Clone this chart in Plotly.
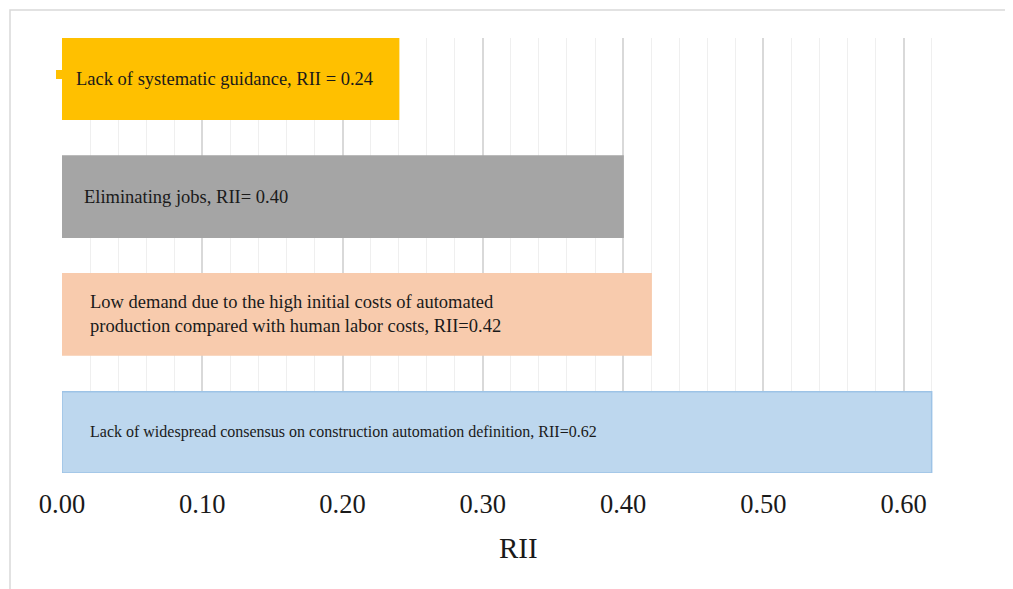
import plotly.graph_objects as go

# Data (top-to-bottom order as shown)
categories = ["Lack of systematic guidance", "Eliminating jobs",
              "Low demand due to high initial costs", "Lack of widespread consensus"]
rii_values = [0.24, 0.40, 0.42, 0.62]
bar_labels = ["Lack of systematic guidance, RII = 0.24",
              "Eliminating jobs, RII= 0.40",
              "Low demand due to the high initial costs of automated<br>production compared with human labor costs, RII=0.42",
              "Lack of widespread consensus on construction automation definition, RII=0.62"]
bar_colors = ["#FFC000", "#A5A5A5", "#F8CBAD", "#BDD7EE"]
line_colors = ["#FFC000", "#A5A5A5", "#F8CBAD", "#9DC3E6"]
label_sizes = [18.5, 18.5, 18.5, 16]
label_shift = [12, 20, 26, 26]
tick_vals = [0.0, 0.1, 0.2, 0.3, 0.4, 0.5, 0.6]
tick_text = ["0.00", "0.10", "0.20", "0.30", "0.40", "0.50", "0.60"]
axis_title = "RII"

FONT = "Liberation Serif, Times New Roman, serif"

fig = go.Figure()
fig.add_trace(go.Bar(
    x=rii_values, y=categories, orientation="h",
    marker=dict(color=bar_colors, line=dict(color=line_colors, width=1.5)),
    hoverinfo="skip", showlegend=False,
))

for cat, lab, sz, sh in zip(categories, bar_labels, label_sizes, label_shift):
    fig.add_annotation(x=0, y=cat, xref="x", yref="y", text=lab, showarrow=False,
                       xanchor="left", yanchor="middle", align="left", xshift=sh,
                       font=dict(family=FONT, size=sz, color="#1a1a1a"))

# page body has an 8px margin; compensate so the picture lands where the reference is
OFF = 8
W, H = 1013 - OFF, 589 - OFF
L, R, T, B = 62 - OFF, 53, 38 - OFF, 116
pw, ph = W - L - R, H - T - B

def px(x):
    return (x - OFF - L) / pw

def py(y):
    return (H - B - (y - OFF)) / ph

# axis title (placed slightly right of the plot centre, as in the reference)
fig.add_annotation(x=px(518), y=py(548), xref="paper", yref="paper", text=axis_title,
                   showarrow=False, xanchor="center", yanchor="middle",
                   font=dict(family=FONT, size=29, color="#1a1a1a"))

# outer chart border
fig.add_shape(type="rect", xref="paper", yref="paper",
              x0=px(10), x1=px(1040), y0=py(10), y1=py(620),
              line=dict(color="#D9D9D9", width=1.5), fillcolor="rgba(0,0,0,0)", layer="below")
# small marker artifact left of the top bar
fig.add_shape(type="rect", xref="paper", yref="paper",
              x0=px(56), x1=px(62), y0=py(79), y1=py(70),
              line=dict(width=0), fillcolor="#FFC000")

GAP = 0.31
fig.update_layout(
    width=W, height=H,
    margin=dict(l=L, r=R, t=T, b=B),
    paper_bgcolor="white", plot_bgcolor="white",
    bargap=GAP,
    font=dict(family=FONT, color="#1a1a1a"),
    xaxis=dict(
        range=[0, 0.6402], tickvals=tick_vals, ticktext=tick_text,
        showgrid=True, gridcolor="#D9D9D9", gridwidth=1.5,
        minor=dict(dtick=0.02, showgrid=True, gridcolor="#EFEFEF", gridwidth=1),
        zeroline=False, showline=False, ticks="",
        tickfont=dict(family=FONT, size=26.5, color="#1a1a1a"),
        ticklabelstandoff=12,
    ),
    yaxis=dict(
        range=[len(categories) - 0.5 - GAP / 2, -0.5 + GAP / 2],
        showticklabels=False, showgrid=False,
        zeroline=False, showline=False, ticks="",
    ),
)

fig.write_html("out.html")
